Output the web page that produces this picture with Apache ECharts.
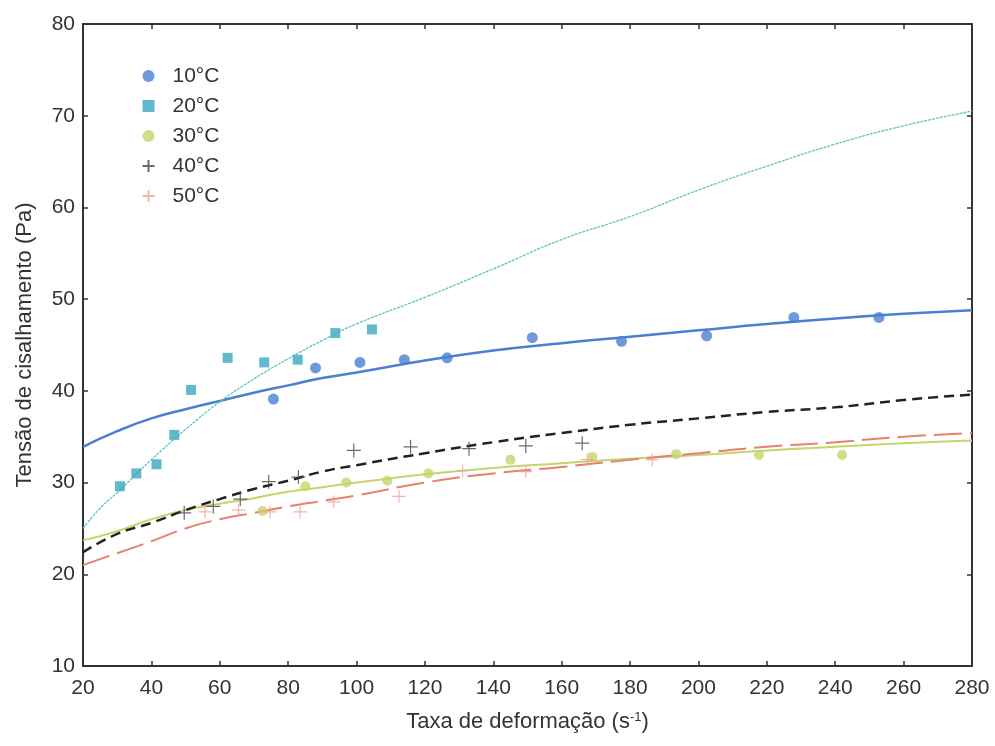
<!DOCTYPE html>
<html>
<head>
<meta charset="utf-8">
<title>Tensão de cisalhamento</title>
<script src="https://cdn.jsdelivr.net/npm/echarts@6/dist/echarts.min.js"></script>
<style>
  html, body { margin: 0; padding: 0; background: #ffffff; }
  #chart { width: 995px; height: 746px; }
</style>
</head>
<body>
<div id="chart"></div>
<script>
// pontos medidos [taxa de deformação, tensão]
var pts10 = [[75.7, 39.1], [88, 42.5], [101, 43.1], [114, 43.4], [126.5, 43.6], [151.4, 45.8], [177.5, 45.4], [202.4, 46.0], [227.9, 48.0], [252.8, 48.0]];
var pts20 = [[30.8, 29.6], [35.6, 31.0], [41.5, 32.0], [46.7, 35.2], [51.6, 40.1], [62.3, 43.6], [73.0, 43.1], [82.8, 43.4], [93.8, 46.3], [104.5, 46.7]];
var pts30 = [[72.5, 26.9], [85, 29.6], [97, 30.0], [109, 30.2], [121, 31.0], [145, 32.5], [169, 32.8], [193.5, 33.1], [217.7, 33.0], [242, 33.0]];
var pts40 = [[49.6, 26.7], [58.1, 27.4], [66, 28.2], [74.3, 30.1], [83, 30.6], [99.2, 33.5], [115.8, 33.9], [132.9, 33.7], [149.5, 34.0], [166, 34.3]];
var pts50 = [[55.7, 26.8], [65.5, 27.0], [74.7, 26.8], [83.5, 26.8], [93.3, 27.9], [112.4, 28.5], [131, 31.3], [149.5, 31.2], [167.5, 32.5], [186.5, 32.5]];

// curvas ajustadas
var fit10 = [[20, 33.9], [30, 35.6], [40, 37.0], [50, 38.0], [60, 38.9], [70, 39.8], [80, 40.6], [90, 41.4], [100, 42.0], [120, 43.3], [140, 44.4], [160, 45.2], [180, 45.9], [200, 46.6], [220, 47.3], [240, 47.9], [260, 48.4], [280, 48.8]];
var fit20 = [[20, 25.0], [25, 27.2], [30, 28.9], [35, 30.7], [40, 32.5], [50, 35.8], [60, 38.8], [70, 41.3], [80, 43.5], [90, 45.5], [100, 47.3], [120, 50.2], [140, 53.3], [160, 56.5], [180, 59.0], [200, 61.9], [220, 64.5], [240, 66.9], [260, 68.9], [280, 70.5]];
var fit30 = [[20, 23.7], [30, 24.7], [40, 26.0], [50, 27.0], [60, 27.7], [70, 28.3], [80, 29.0], [90, 29.5], [100, 30.0], [120, 30.9], [140, 31.6], [160, 32.1], [180, 32.6], [200, 33.0], [220, 33.5], [240, 33.9], [260, 34.3], [280, 34.6]];
var fit40 = [[20, 22.4], [30, 24.4], [40, 25.6], [50, 27.0], [60, 28.2], [70, 29.3], [80, 30.2], [90, 31.2], [100, 31.9], [120, 33.2], [140, 34.4], [160, 35.4], [180, 36.3], [200, 37.0], [220, 37.7], [240, 38.2], [260, 39.0], [280, 39.6]];
var fit50 = [[20, 21.0], [30, 22.3], [40, 23.6], [50, 25.0], [60, 26.0], [70, 26.7], [80, 27.4], [90, 28.0], [100, 28.6], [120, 30.0], [140, 31.0], [160, 31.7], [180, 32.5], [200, 33.2], [220, 33.9], [240, 34.4], [260, 35.0], [280, 35.4]];

var names = ['10°C', '20°C', '30°C', '40°C', '50°C'];

var chart = echarts.init(document.getElementById('chart'), null, { renderer: 'canvas' });

var plus = 'path://M0,5L10,5M5,0L5,10';
var axisColor = '#333';
var font = 'Liberation Sans, Arial, sans-serif';

// eixos de cima e da direita, só para fechar a caixa
function boxAxis(pos, isX) {
  return {
    type: 'value',
    position: pos,
    min: isX ? 20 : 10,
    max: isX ? 280 : 80,
    interval: isX ? 20 : 10,
    axisLine: { show: true, lineStyle: { color: axisColor, width: 2 } },
    axisTick: { show: true, inside: true, length: 5, lineStyle: { color: axisColor, width: 1.5 } },
    axisLabel: { show: false },
    splitLine: { show: false }
  };
}

var option = {
  backgroundColor: '#ffffff',
  animation: false,
  textStyle: { fontFamily: font },
  grid: { left: 83, right: 23, top: 24, bottom: 80 },
  legend: {
    orient: 'vertical',
    left: 135,
    top: 60,
    itemWidth: 12,
    itemHeight: 12,
    itemGap: 8,
    data: names,
    textStyle: { fontSize: 21, color: '#333', fontFamily: font, lineHeight: 22, padding: [0, 0, 0, 13] }
  },
  xAxis: [
    {
      type: 'value',
      position: 'bottom',
      min: 20,
      max: 280,
      interval: 20,
      name: 'Taxa de deformação (s{sup|-1})',
      nameLocation: 'middle',
      nameGap: 45,
      nameTextStyle: {
        fontSize: 22, color: '#333', fontFamily: font,
        rich: { sup: { fontSize: 13, verticalAlign: 'top', color: '#333', padding: [0, 0, 9, 0] } }
      },
      axisLine: { show: true, lineStyle: { color: axisColor, width: 2 } },
      axisTick: { show: true, inside: true, length: 5, lineStyle: { color: axisColor, width: 1.5 } },
      axisLabel: { fontSize: 21, color: '#333', margin: 12, fontFamily: font },
      splitLine: { show: false }
    },
    boxAxis('top', true)
  ],
  yAxis: [
    {
      type: 'value',
      position: 'left',
      min: 10,
      max: 80,
      interval: 10,
      name: 'Tensão de cisalhamento (Pa)',
      nameLocation: 'middle',
      nameGap: 47,
      nameTextStyle: { fontSize: 22, color: '#333', fontFamily: font },
      axisLine: { show: true, lineStyle: { color: axisColor, width: 2 } },
      axisTick: { show: true, inside: true, length: 5, lineStyle: { color: axisColor, width: 1.5 } },
      axisLabel: { fontSize: 21, color: '#333', margin: 8, fontFamily: font },
      splitLine: { show: false }
    },
    boxAxis('right', false)
  ],
  series: [
    // curvas
    { type: 'line', data: fit10, smooth: true, showSymbol: false, lineStyle: { color: '#4a7fd3', width: 2.5 }, silent: true, z: 2 },
    { type: 'line', data: fit20, smooth: true, showSymbol: false, lineStyle: { color: '#5cc6c6', width: 1.3, type: [3, 1] }, silent: true, z: 2 },
    { type: 'line', data: fit30, smooth: true, showSymbol: false, lineStyle: { color: '#c6d46a', width: 2 }, silent: true, z: 2 },
    { type: 'line', data: fit40, smooth: true, showSymbol: false, lineStyle: { color: '#222222', width: 2.5, type: [10, 6] }, silent: true, z: 2 },
    { type: 'line', data: fit50, smooth: true, showSymbol: false, lineStyle: { color: '#e8806e', width: 2, type: [28, 8] }, silent: true, z: 2 },
    // pontos
    { name: names[0], type: 'scatter', data: pts10, symbol: 'circle', symbolSize: 11, itemStyle: { color: '#4a7fd3' }, z: 3 },
    { name: names[1], type: 'scatter', data: pts20, symbol: 'rect', symbolSize: 10, itemStyle: { color: '#3ba7bf' }, z: 3 },
    { name: names[2], type: 'scatter', data: pts30, symbol: 'circle', symbolSize: 10, itemStyle: { color: '#c6d46a' }, z: 3 },
    { name: names[3], type: 'scatter', data: pts40, symbol: plus, symbolSize: 14, itemStyle: { color: 'none', borderColor: '#444', borderWidth: 1.2 }, z: 3 },
    { name: names[4], type: 'scatter', data: pts50, symbol: plus, symbolSize: 13, itemStyle: { color: 'none', borderColor: '#f0a090', borderWidth: 1.2 }, z: 3 }
  ]
};

chart.setOption(option);
</script>
</body>
</html>
